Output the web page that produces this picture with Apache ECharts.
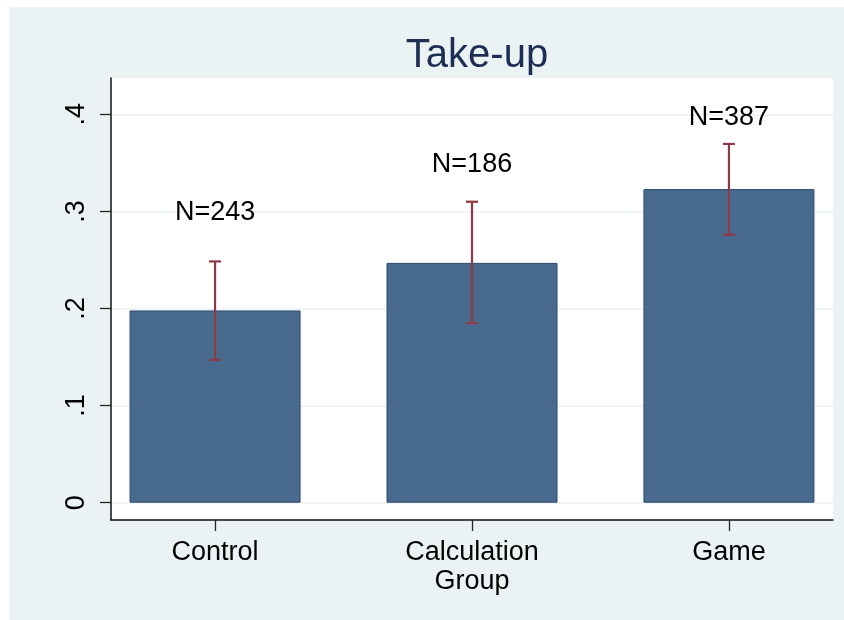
<!DOCTYPE html>
<html>
<head>
<meta charset="utf-8">
<script src="https://cdn.jsdelivr.net/npm/echarts@6/dist/echarts.min.js"></script>
<style>
html,body{margin:0;padding:0;background:#fff;}
#c{width:844px;height:620px;}
</style>
</head>
<body>
<div id="c"></div>
<script>
var categories = ['Control', 'Calculation\nGroup', 'Game'];
var positions = [1, 2, 3];
var means = [0.198, 0.247, 0.323];
var ciLow = [0.147, 0.185, 0.276];
var ciHigh = [0.2485, 0.310, 0.3695];
var nLabels = ['N=243', 'N=186', 'N=387'];
var nLabelY = [0.299, 0.348, 0.397];
var yTicks = [0, 0.1, 0.2, 0.3, 0.4];
var yTickLabels = ['0', '.1', '.2', '.3', '.4'];

var FONT = '"Liberation Sans", Arial, Helvetica, sans-serif';

var chart = echarts.init(document.getElementById('c'), null, {renderer: 'canvas'});

var barData = positions.map(function (p, i) { return [p, means[i]]; });
var errData = positions.map(function (p, i) { return [p, ciLow[i], ciHigh[i], nLabelY[i], i]; });

var option = {
  animation: false,
  backgroundColor: '#ffffff',
  graphic: [{
    type: 'rect', z: -100, silent: true,
    shape: {x: 9, y: 7, width: 835, height: 613},
    style: {fill: '#EAF2F3'}
  }],
  title: {
    text: 'Take-up',
    left: 472, top: 31, textAlign: 'center',
    textStyle: {fontFamily: FONT, fontSize: 40, fontWeight: 'normal', color: '#1E2D53'}
  },
  grid: {
    left: 111, right: 11, top: 78, bottom: 100,
    show: true, backgroundColor: '#ffffff', borderWidth: 0
  },
  xAxis: {
    type: 'value', min: 0.595, max: 3.405,
    axisLine: {show: true, onZero: false, lineStyle: {color: '#111', width: 1.5}},
    axisTick: {show: true, length: 11, lineStyle: {color: '#222', width: 1.3}, customValues: positions},
    splitLine: {show: false},
    axisLabel: {
      customValues: positions, margin: 18,
      fontFamily: FONT, fontSize: 27, color: '#000', lineHeight: 29,
      formatter: function (v) { var i = positions.indexOf(Math.round(v)); return i >= 0 ? categories[i] : ''; }
    }
  },
  yAxis: {
    type: 'value', min: -0.0178, max: 0.4374,
    axisLine: {show: true, onZero: false, lineStyle: {color: '#111', width: 1.5}},
    axisTick: {show: true, length: 11, lineStyle: {color: '#222', width: 1.3}, customValues: yTicks},
    splitLine: {show: true, lineStyle: {color: '#EAF2F3', width: 1.6}},
    axisLabel: {
      customValues: yTicks, margin: 21, rotate: 90,
      fontFamily: FONT, fontSize: 27, color: '#000',
      formatter: function (v) {
        for (var i = 0; i < yTicks.length; i++) { if (Math.abs(yTicks[i] - v) < 1e-9) return yTickLabels[i]; }
        return '';
      }
    }
  },
  series: [
    {
      type: 'bar',
      data: barData,
      barWidth: 171,
      itemStyle: {color: '#486A8C', borderColor: '#2D4B6C', borderWidth: 1}
    },
    {
      type: 'custom',
      data: errData,
      z: 5,
      renderItem: function (params, api) {
        var x = api.value(0);
        var lo = api.coord([x, api.value(1)]);
        var hi = api.coord([x, api.value(2)]);
        var lab = api.coord([x, api.value(3)]);
        var idx = api.value(4);
        var cap = 6;
        var st = {stroke: '#8E3A46', lineWidth: 2.2};
        return {
          type: 'group',
          children: [
            {type: 'line', shape: {x1: lo[0], y1: lo[1], x2: hi[0], y2: hi[1]}, style: st},
            {type: 'line', shape: {x1: lo[0] - cap, y1: lo[1], x2: lo[0] + cap, y2: lo[1]}, style: st},
            {type: 'line', shape: {x1: hi[0] - cap, y1: hi[1], x2: hi[0] + cap, y2: hi[1]}, style: st},
            {type: 'text', style: {
              x: lab[0], y: lab[1], text: nLabels[idx], align: 'center', verticalAlign: 'middle',
              fontFamily: FONT, fontSize: 27, fill: '#000'
            }}
          ]
        };
      }
    }
  ]
};
chart.setOption(option);
</script>
</body>
</html>
